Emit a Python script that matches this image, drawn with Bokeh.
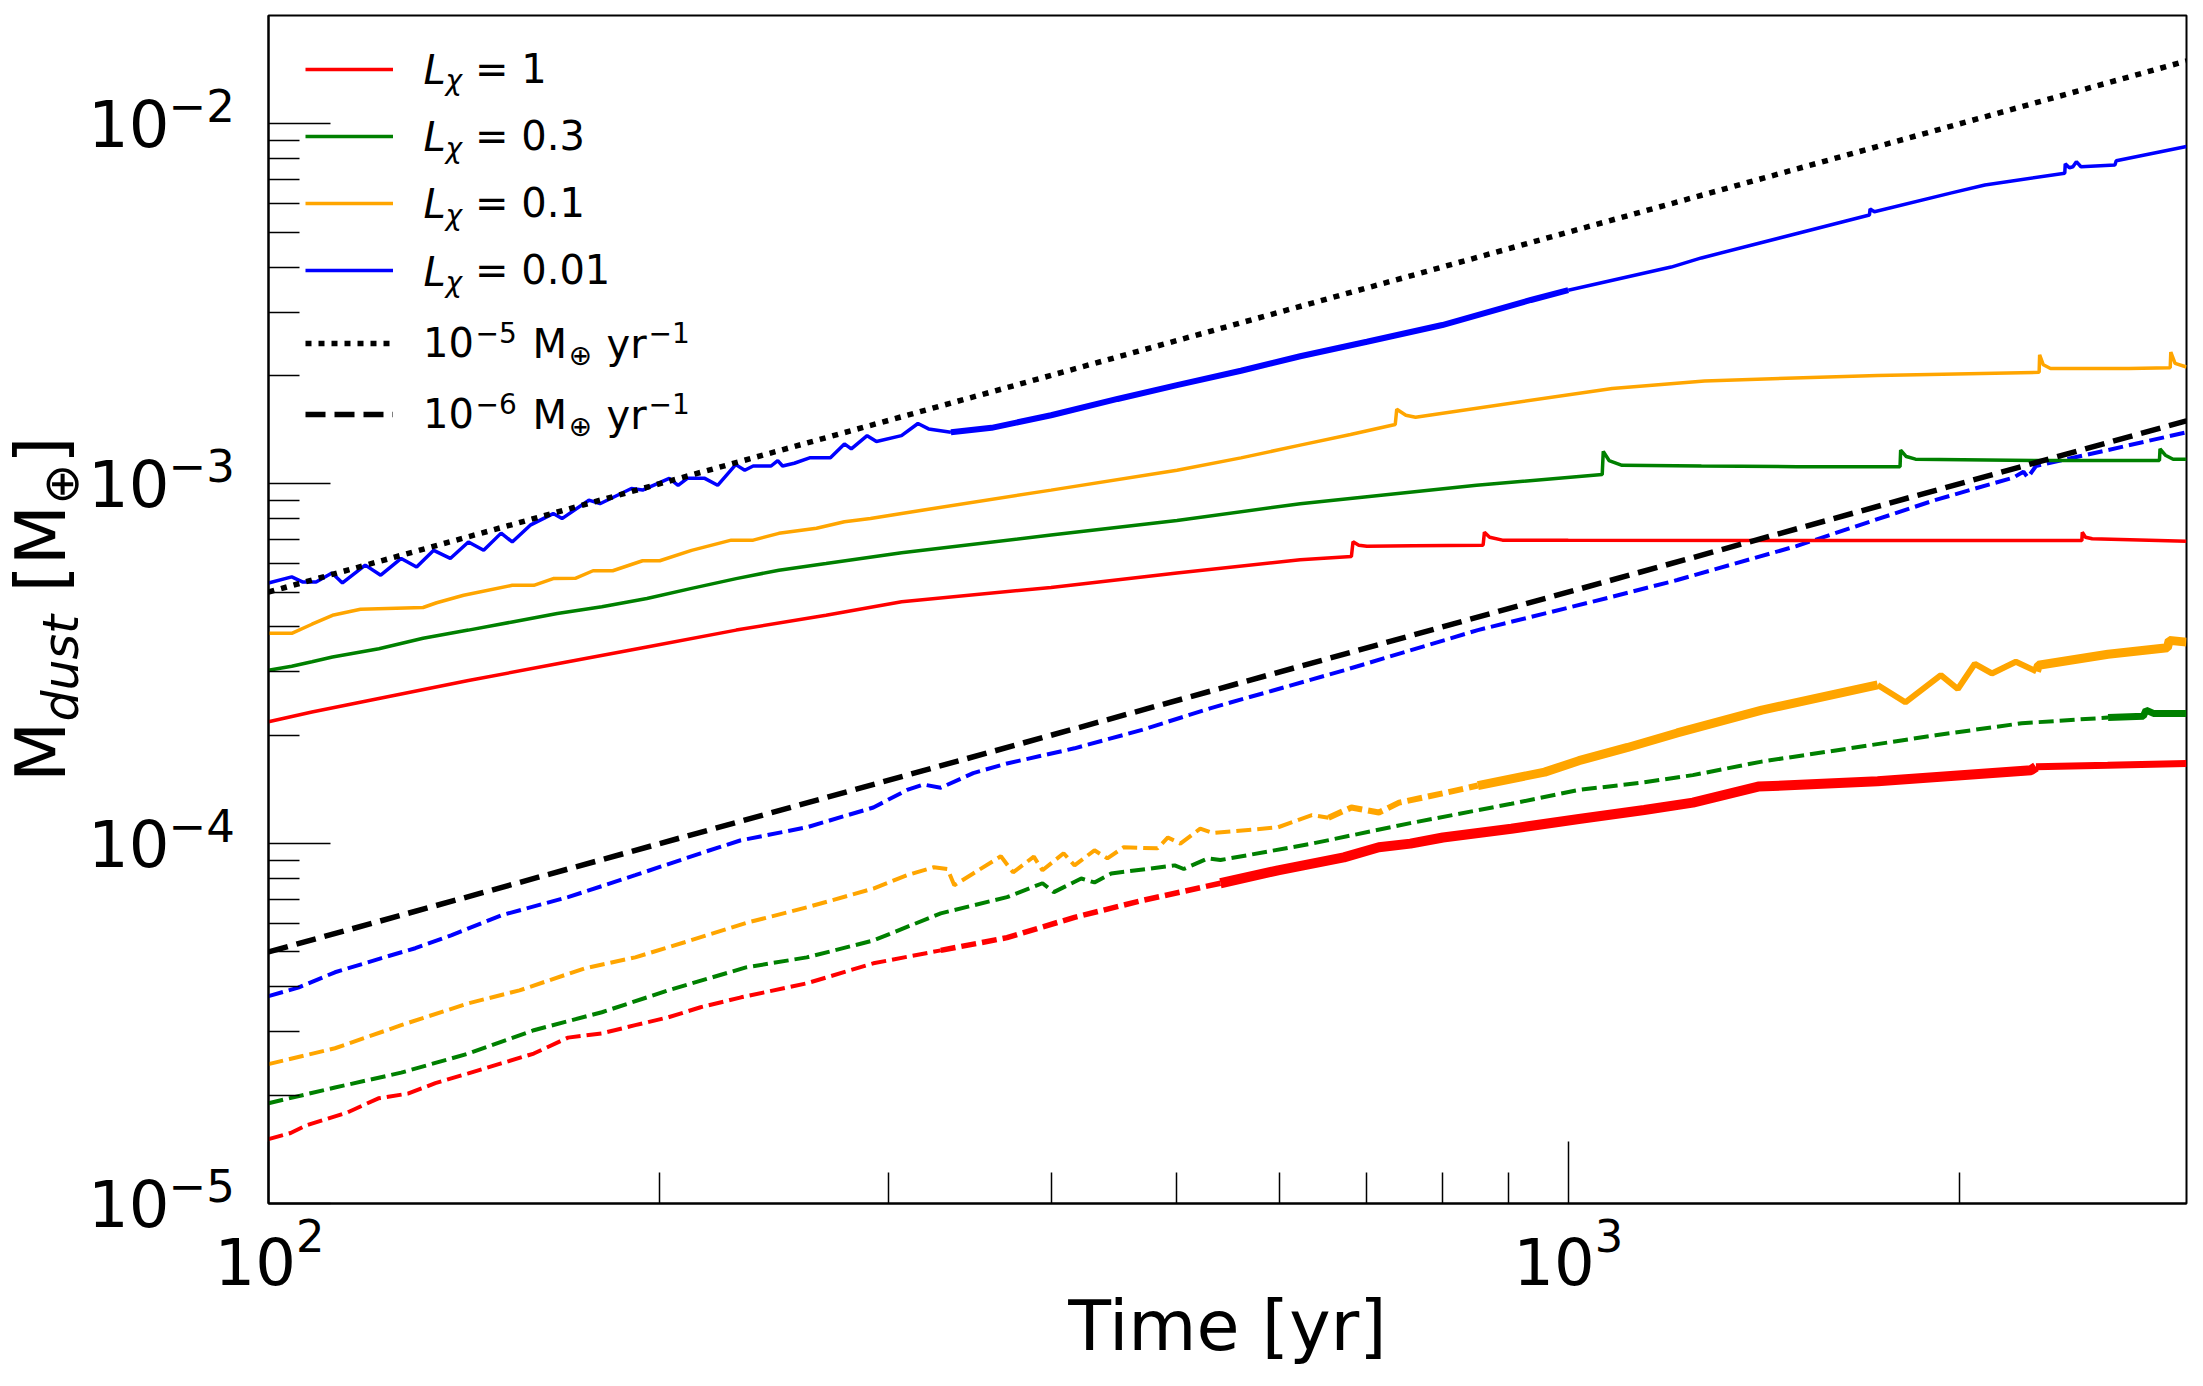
import math
from bokeh.plotting import figure
from bokeh.layouts import row
from bokeh.models import Range1d, FixedTicker, Legend, LegendItem, Label, Div
from bokeh.core.properties import value
from bokeh.embed import file_html
from bokeh.resources import INLINE

FONT = "DejaVu Sans"

# ---------------- data ----------------
X_MAJOR = [100, 1000]
X_MINOR = [200, 300, 400, 500, 600, 700, 800, 900, 2000]
Y_MAJOR = [1e-5, 1e-4, 1e-3, 1e-2]
Y_EXPONENTS = ["\u22125", "\u22124", "\u22123", "\u22122"]
Y_MINOR = [2e-5, 3e-5, 4e-5, 5e-5, 6e-5, 7e-5, 8e-5, 9e-5,
           2e-4, 3e-4, 4e-4, 5e-4, 6e-4, 7e-4, 8e-4, 9e-4,
           2e-3, 3e-3, 4e-3, 5e-3, 6e-3, 7e-3, 8e-3, 9e-3]

LEGEND_L = ["= 1", "= 0.3", "= 0.1", "= 0.01"]
RATE_EXP = ["\u22125", "\u22126"]

# L = 1 (solid)
T_RED = [100, 108, 121.6, 142.5, 166.8, 195.5, 229, 268.5, 307, 400, 500, 622, 681,
         683, 690, 700, 760, 860, 862, 870, 890, 1000, 1500, 2000, 2484, 2486, 2500,
         2530, 2990]
M_RED = [2.18e-4, 2.32e-4, 2.53e-4, 2.84e-4, 3.16e-4, 3.52e-4, 3.92e-4, 4.31e-4, 4.70e-4,
         5.15e-4, 5.65e-4, 6.15e-4, 6.28e-4, 6.9e-4, 6.75e-4, 6.7e-4, 6.72e-4, 6.75e-4,
         7.33e-4, 7.1e-4, 6.97e-4, 6.96e-4, 6.95e-4, 6.95e-4, 6.95e-4, 7.33e-4, 7.1e-4,
         7.03e-4, 6.92e-4]

# L = 0.3 (solid)
T_GREEN = [100, 104.2, 108, 112, 121.6, 131.5, 142.5, 154, 166.8, 180.5, 195.5, 211.6,
           229, 247, 268.5, 307, 400, 500, 622, 700, 850, 1062, 1064, 1075, 1100, 1266,
           1500, 1800, 1802, 1820, 1850, 2300, 2850, 2853, 2880, 2920, 2990]
M_GREEN = [3.03e-4, 3.11e-4, 3.20e-4, 3.30e-4, 3.48e-4, 3.72e-4, 3.92e-4, 4.13e-4,
           4.36e-4, 4.55e-4, 4.80e-4, 5.12e-4, 5.45e-4, 5.75e-4, 6.0e-4, 6.43e-4, 7.2e-4,
           7.9e-4, 8.8e-4, 9.2e-4, 9.9e-4, 1.06e-3, 1.23e-3, 1.16e-3, 1.125e-3, 1.12e-3,
           1.115e-3, 1.115e-3, 1.24e-3, 1.19e-3, 1.17e-3, 1.16e-3, 1.16e-3, 1.25e-3,
           1.2e-3, 1.17e-3, 1.17e-3]

# L = 0.1 (solid)
T_ORANGE = [100, 104.2, 108, 112, 117.7, 131.5, 134.7, 141.3, 154, 160, 165.6, 172.2,
            177.7, 184, 194, 200, 211.6, 227, 236, 247, 264, 277.4, 290.5, 307, 400, 500,
            560, 622, 680, 736, 738, 750, 763, 1081, 1273, 1730, 2303, 2305, 2320, 2350,
            2700, 2905, 2908, 2930, 2990]
M_ORANGE = [3.84e-4, 3.84e-4, 4.07e-4, 4.31e-4, 4.48e-4, 4.53e-4, 4.67e-4, 4.90e-4,
            5.22e-4, 5.22e-4, 5.45e-4, 5.46e-4, 5.73e-4, 5.73e-4, 6.11e-4, 6.11e-4,
            6.53e-4, 6.97e-4, 6.97e-4, 7.28e-4, 7.52e-4, 7.84e-4, 8.01e-4, 8.27e-4,
            9.6e-4, 1.09e-3, 1.18e-3, 1.28e-3, 1.37e-3, 1.46e-3, 1.61e-3, 1.55e-3,
            1.53e-3, 1.84e-3, 1.93e-3, 2.00e-3, 2.04e-3, 2.28e-3, 2.14e-3, 2.09e-3,
            2.09e-3, 2.10e-3, 2.32e-3, 2.16e-3, 2.11e-3]

# L = 0.01 (solid)
T_BLUE = [100, 104.2, 106.3, 108.8, 111.9, 114, 118.7, 122, 126.5, 130, 134, 138, 142.5,
          146.4, 151, 154, 159, 165.6, 168.2, 176.4, 179.9, 190.2, 194, 203.4, 206.6, 210,
          216.6, 221.6, 228.8, 232.5, 236, 243.6, 246.5, 248.6, 253.8, 260.8, 270.6,
          277.4, 280.8, 288.8, 293.6, 306.9, 316, 322, 335, 360, 400, 450, 500, 560, 622,
          700, 800, 936, 1000, 1200, 1266, 1705, 1707, 1720, 1972, 2092, 2410, 2412, 2430,
          2445, 2460, 2480, 2634, 2640, 2990]
M_BLUE = [5.3e-4, 5.51e-4, 5.33e-4, 5.33e-4, 5.65e-4, 5.3e-4, 5.94e-4, 5.57e-4, 6.2e-4,
          5.87e-4, 6.53e-4, 6.2e-4, 6.89e-4, 6.53e-4, 7.29e-4, 6.89e-4, 7.67e-4, 8.26e-4,
          8.0e-4, 9.0e-4, 8.8e-4, 9.7e-4, 9.6e-4, 1.035e-3, 9.9e-4, 1.035e-3, 1.035e-3,
          9.9e-4, 1.13e-3, 1.09e-3, 1.12e-3, 1.12e-3, 1.16e-3, 1.12e-3, 1.14e-3, 1.18e-3,
          1.18e-3, 1.29e-3, 1.25e-3, 1.36e-3, 1.31e-3, 1.36e-3, 1.47e-3, 1.42e-3, 1.39e-3,
          1.43e-3, 1.55e-3, 1.72e-3, 1.88e-3, 2.06e-3, 2.26e-3, 2.48e-3, 2.76e-3, 3.24e-3,
          3.45e-3, 4.0e-3, 4.24e-3, 5.58e-3, 5.80e-3, 5.70e-3, 6.43e-3, 6.76e-3, 7.29e-3,
          7.74e-3, 7.55e-3, 7.6e-3, 7.85e-3, 7.6e-3, 7.69e-3, 7.9e-3, 8.65e-3]

# dashed companions
T_BLUE_D = [100, 105.4, 112.5, 122, 129.7, 138.2, 151, 170, 191.5, 215, 230.6, 259.5, 292,
            310, 319, 329, 348.5, 370, 417, 470, 531, 672, 852, 1078, 1213, 1498, 1914,
            2200, 2240, 2257, 2290, 2600, 2990]
M_BLUE_D = [3.77e-5, 3.98e-5, 4.39e-5, 4.80e-5, 5.12e-5, 5.56e-5, 6.32e-5, 7.10e-5,
            8.17e-5, 9.40e-5, 1.02e-4, 1.11e-4, 1.26e-4, 1.41e-4, 1.46e-4, 1.43e-4,
            1.57e-4, 1.67e-4, 1.84e-4, 2.07e-4, 2.38e-4, 3.03e-4, 3.92e-4, 4.84e-4,
            5.40e-4, 6.71e-4, 9.0e-4, 1.04e-3, 1.08e-3, 1.04e-3, 1.12e-3, 1.24e-3, 1.39e-3]

T_ORANGE_D = [100, 112.5, 126.5, 142.5, 156, 175, 191.5, 209, 233, 259.5, 292, 310, 325,
              333, 337, 348.5, 366, 374, 388, 394, 409, 417, 432, 442, 455, 483, 492, 503,
              521, 533, 598, 635, 654, 681, 715, 741, 801, 852, 959, 1019, 1111, 1213, 1409,
              1730, 1817, 1935, 1994, 2055, 2118, 2210, 2292, 2300, 2602, 2890, 2900, 2990]
M_ORANGE_D = [2.44e-5, 2.70e-5, 3.13e-5, 3.60e-5, 3.91e-5, 4.50e-5, 4.83e-5, 5.32e-5,
              6.02e-5, 6.65e-5, 7.5e-5, 8.17e-5, 8.6e-5, 8.5e-5, 7.66e-5, 8.26e-5, 9.22e-5,
              8.32e-5, 9.2e-5, 8.43e-5, 9.40e-5, 8.7e-5, 9.58e-5, 9.1e-5, 9.77e-5, 9.7e-5,
              1.04e-4, 1.0e-4, 1.10e-4, 1.07e-4, 1.11e-4, 1.20e-4, 1.18e-4, 1.26e-4,
              1.22e-4, 1.30e-4, 1.38e-4, 1.45e-4, 1.58e-4, 1.70e-4, 1.85e-4, 2.03e-4,
              2.35e-4, 2.76e-4, 2.47e-4, 2.94e-4, 2.69e-4, 3.16e-4, 2.97e-4, 3.20e-4,
              3.01e-4, 3.13e-4, 3.36e-4, 3.50e-4, 3.67e-4, 3.63e-4]

T_GREEN_D = [100, 112.5, 126.5, 142.5, 160, 180.5, 203, 233, 259.5, 292, 329, 370, 394,
             402, 422, 432, 445, 498, 506, 528, 540, 635, 756, 904, 1019, 1144, 1247, 1409,
             1917, 2233, 2602, 2770, 2783, 2820, 2990]
M_GREEN_D = [1.90e-5, 2.10e-5, 2.31e-5, 2.61e-5, 3.03e-5, 3.40e-5, 3.91e-5, 4.53e-5,
             4.83e-5, 5.38e-5, 6.40e-5, 7.10e-5, 7.76e-5, 7.33e-5, 8.0e-5, 7.8e-5, 8.26e-5,
             8.7e-5, 8.5e-5, 9.1e-5, 9.0e-5, 1.0e-4, 1.14e-4, 1.29e-4, 1.41e-4, 1.48e-4,
             1.55e-4, 1.69e-4, 2.00e-4, 2.16e-4, 2.24e-4, 2.26e-4, 2.35e-4, 2.30e-4, 2.30e-4]

T_RED_D = [100, 104, 107, 115, 121.5, 128, 134.4, 142.5, 151, 160, 170, 180.5, 191.5, 203,
           215, 231, 259.5, 292, 329, 370, 417, 470, 540, 598, 672, 715, 756, 801, 904,
           1019, 1144, 1247, 1400, 1730, 2270, 2290, 2600, 2990]
M_RED_D = [1.51e-5, 1.57e-5, 1.65e-5, 1.79e-5, 1.96e-5, 2.02e-5, 2.16e-5, 2.30e-5,
           2.45e-5, 2.61e-5, 2.89e-5, 2.97e-5, 3.13e-5, 3.29e-5, 3.51e-5, 3.74e-5,
           4.09e-5, 4.65e-5, 5.05e-5, 5.48e-5, 6.24e-5, 6.95e-5, 7.76e-5, 8.43e-5,
           9.16e-5, 9.77e-5, 1.0e-4, 1.04e-4, 1.10e-4, 1.17e-4, 1.24e-4, 1.30e-4,
           1.44e-4, 1.49e-4, 1.60e-4, 1.635e-4, 1.65e-4, 1.67e-4]

# reference accretion-rate lines
T_RATE = [100, 2990]
M_RATE5 = [5.0e-4, 1.495e-2]
M_RATE6 = [5.0e-5, 1.495e-3]

# ---------------- geometry ----------------
X0, X1 = 100, 2990
Y0, Y1 = 1e-5, 2e-2
W, H = 2203, 1386
FRAME_L, FRAME_R, FRAME_T, FRAME_B = 268, 2186, 15, 1203   # page pixels
LW = 214                                   # width of the left strip (y tick labels + title)
FRAME_H = FRAME_B - FRAME_T
DEC = FRAME_H / math.log10(Y1 / Y0)        # pixels per decade on y

# ---------------- main figure ----------------
p = figure(width=W - LW, height=H, x_axis_type="log", y_axis_type="log",
           x_range=Range1d(X0, X1), y_range=Range1d(Y0, Y1), title=None,
           output_backend="svg", toolbar_location=None,
           min_border_left=FRAME_L - LW, min_border_right=W - FRAME_R,
           min_border_top=FRAME_T, min_border_bottom=H - FRAME_B)
p.grid.visible = False
p.background_fill_color = "white"
p.border_fill_alpha = 0
p.outline_line_color = "black"
p.outline_line_width = 2

p.xaxis.ticker = FixedTicker(ticks=X_MAJOR, minor_ticks=X_MINOR)
p.yaxis.ticker = FixedTicker(ticks=Y_MAJOR, minor_ticks=Y_MINOR)
for ax in (p.xaxis[0], p.yaxis[0]):
    ax.major_tick_in = 62
    ax.major_tick_out = 0
    ax.minor_tick_in = 31
    ax.minor_tick_out = 0
    ax.major_tick_line_color = "black"
    ax.minor_tick_line_color = "black"
    ax.major_tick_line_width = 1.5
    ax.minor_tick_line_width = 1.5
    ax.axis_line_color = "black"
    ax.axis_line_width = 2
    ax.major_label_text_font = FONT
    ax.major_label_text_color = "black"
p.xaxis.major_label_text_font_size = "64px"
p.xaxis.major_label_standoff = 12
p.xaxis.axis_label = "Time [yr]"
p.xaxis.axis_label_text_font = FONT
p.xaxis.axis_label_text_font_size = "70px"
p.xaxis.axis_label_text_font_style = "normal"
p.xaxis.axis_label_text_color = "black"
p.xaxis.axis_label_standoff = -3
# y tick labels are written in the left strip (10 with a raised exponent, like the reference)
p.yaxis.major_label_text_font_size = "1px"
p.yaxis.major_label_text_alpha = 0
p.yaxis.major_label_standoff = 0


def part(T, M, t0, t1):
    pts = [(t, m) for t, m in zip(T, M) if t0 <= t <= t1]
    return [a for a, _ in pts], [b for _, b in pts]


def styled(T, M, color, styles):
    first = None
    for t0, t1, lw, dash in styles:
        xs, ys = part(T, M, t0, t1)
        r = p.line(xs, ys, line_color=color, line_width=lw, line_dash=dash)
        first = first or r
    return first


DASH_C = "15 6"
styled(T_RED_D, M_RED_D, "red", [(100, 329, 4, DASH_C), (329, 540, 5.5, DASH_C),
                                 (540, 2290, 10, "solid"), (2290, 2990, 7, "solid")])
styled(T_GREEN_D, M_GREEN_D, "green", [(100, 2602, 4, DASH_C), (2602, 2990, 7, "solid")])
styled(T_ORANGE_D, M_ORANGE_D, "orange", [(100, 654, 4, DASH_C), (654, 852, 6, DASH_C),
                                          (852, 1730, 9, "solid"), (1730, 2292, 6, "solid"),
                                          (2292, 2990, 9, "solid")])
styled(T_BLUE_D, M_BLUE_D, "blue", [(100, 2990, 4, DASH_C)])

r_red = p.line(T_RED, M_RED, line_color="red", line_width=3.5)
r_green = p.line(T_GREEN, M_GREEN, line_color="green", line_width=3.5)
r_orange = p.line(T_ORANGE, M_ORANGE, line_color="orange", line_width=3.5)
r_blue = styled(T_BLUE, M_BLUE, "blue", [(100, 335, 3.5, "solid"), (335, 1000, 6, "solid"),
                                         (1000, 2990, 3.5, "solid")])

r_dot = p.line(T_RATE, M_RATE5, line_color="black", line_width=5.5, line_dash="6 7")
r_dash = p.line(T_RATE, M_RATE6, line_color="black", line_width=5.5, line_dash="20 9")

# ---------------- legends ----------------
ROW1 = [69.3, 136.6, 203.9, 271.2]   # page rows
ROW2 = [343.3, 414.3]
ROW_H = 50


def legend_y(rows, spacing):
    h = len(rows) * ROW_H + (len(rows) - 1) * spacing
    top = rows[0] - ROW_H / 2 - FRAME_T
    return FRAME_H - top - h


common = dict(orientation="vertical", glyph_width=88, glyph_height=ROW_H, label_height=ROW_H,
              padding=0, margin=0, border_line_alpha=0, background_fill_alpha=0,
              label_text_font=FONT, label_text_font_size="40px", label_text_color="black")
leg1 = Legend(items=[LegendItem(label=value(t), renderers=[r])
                     for t, r in zip(LEGEND_L, [r_red, r_green, r_orange, r_blue])],
              location=(305 - FRAME_L, legend_y(ROW1, 17)), spacing=17, label_standoff=82,
              **common)
leg2 = Legend(items=[LegendItem(label=value("10"), renderers=[r]) for r in [r_dot, r_dash]],
              location=(305 - FRAME_L, legend_y(ROW2, 21)), spacing=21, label_standoff=30,
              **common)
p.add_layout(leg1)
p.add_layout(leg2)


def lab(x_px, y_px, text, size="40px", style="normal"):
    p.add_layout(Label(x=X0, y=Y0, x_offset=x_px - FRAME_L, y_offset=FRAME_B - y_px, text=text,
                       text_font=FONT, text_font_style=style, text_font_size=size,
                       text_align="left", text_baseline="middle", text_color="black"))


for yc in ROW1:
    lab(423, yc, "L", style="italic")
    lab(445, yc + 11, "\u03c7", size="28px", style="italic")
for yc, ex in zip(ROW2, RATE_EXP):
    lab(475, yc - 11, ex, size="28px")
    lab(532, yc, "M")
    lab(568, yc + 12, "\u2295", size="28px")
    lab(606, yc, "yr")
    lab(648, yc - 11, "\u22121", size="28px")

# ---------------- left strip: y tick labels and rotated y title as HTML text ----------------
# DejaVu Sans: ascent 0.928 em, descent 0.236 em -> baseline offset inside a line box of
# height = font size is  size*(0.928 - (1.164 - 1)/2)
def base_off(size):
    return size * (0.928 - 0.082)


def tick_y(v):
    return FRAME_B - math.log10(v / Y0) * DEC


parts = []
for v, ex in zip(Y_MAJOR, Y_EXPONENTS):
    ty = tick_y(v)
    parts.append(f'<div style="position:absolute;left:88px;top:{ty + 24 - base_off(64):.1f}px;'
                 f'font-size:64px;line-height:64px;white-space:nowrap;">10</div>')
    parts.append(f'<div style="position:absolute;left:168.5px;top:{ty - 1 - base_off(45):.1f}px;'
                 f'font-size:45px;line-height:45px;white-space:nowrap;">{ex}</div>')
parts.append(
    f'<div style="position:absolute;left:{65 - base_off(70):.1f}px;top:781.9px;'
    'transform-origin:0 0;transform:rotate(-90deg);white-space:nowrap;'
    'font-size:70px;line-height:70px;">'
    'M<span style="font-size:49px;font-style:italic;position:relative;top:13px;">dust</span>'
    ' [M<span style="font-size:49px;position:relative;top:13px;">\u2295</span>]</div>')
html = (f'<div style="position:relative;width:{LW}px;height:{H}px;overflow:visible;'
        f"font-family:'{FONT}';color:#000;\">" + "".join(parts) + "</div>")
left = Div(text=html, width=LW, height=H, margin=0, styles={"overflow": "visible"})

layout = row(left, p, spacing=0)
open("out.html", "w").write(file_html(layout, INLINE))
